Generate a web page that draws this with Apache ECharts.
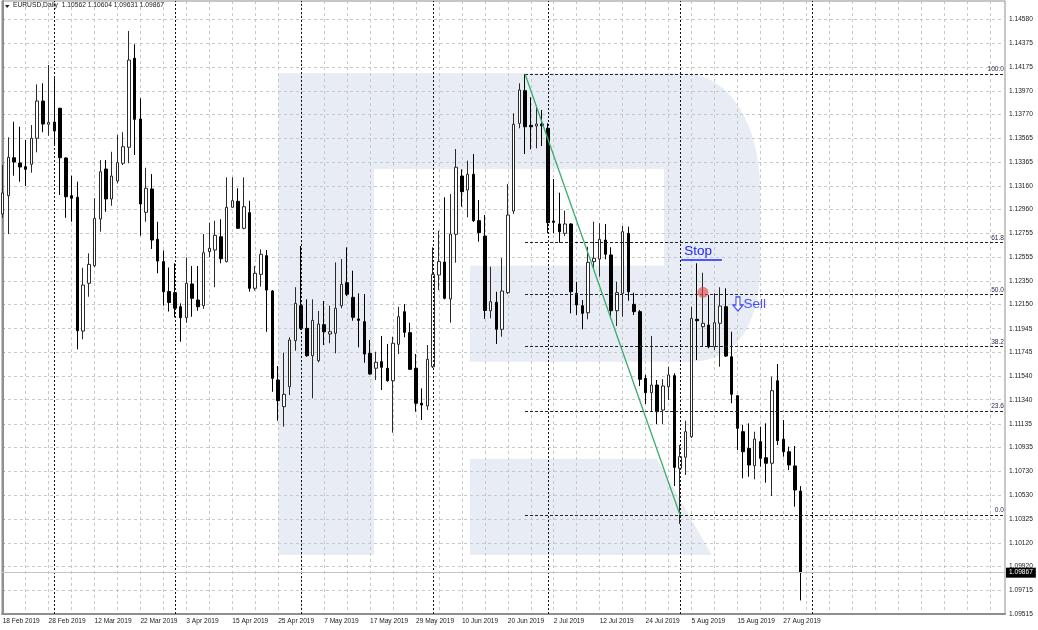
<!DOCTYPE html>
<html><head><meta charset="utf-8">
<script src="https://cdn.jsdelivr.net/npm/echarts@6/dist/echarts.min.js"></script>
<style>html,body{margin:0;padding:0;background:#fff;}#c{width:1038px;height:630px;}</style>
</head><body><div id="c"></div>
<script>
// ---------- data ----------
const dateLabels = ['18 Feb 2019','28 Feb 2019','12 Mar 2019','22 Mar 2019','3 Apr 2019','15 Apr 2019','25 Apr 2019','7 May 2019','17 May 2019','29 May 2019','10 Jun 2019','20 Jun 2019','2 Jul 2019','12 Jul 2019','24 Jul 2019','5 Aug 2019','15 Aug 2019','27 Aug 2019'];
const labelStep = 8;
const priceTicks = ['1.09515','1.09715','1.09920','1.10120','1.10325','1.10530','1.10730','1.10935','1.11135','1.11340','1.11540','1.11745','1.11945','1.12150','1.12350','1.12555','1.12755','1.12960','1.13160','1.13365','1.13565','1.13770','1.13970','1.14175','1.14375','1.14580'];
const opens = [1.12922,1.13078,1.13401,1.13356,1.13325,1.13345,1.13567,1.13884,1.13686,1.13705,1.13822,1.13399,1.13078,1.13064,1.11925,1.12332,1.12481,1.12879,1.13305,1.13050,1.13203,1.13354,1.13490,1.14248,1.13731,1.12936,1.13135,1.12706,1.12516,1.12262,1.12252,1.12132,1.12039,1.12326,1.12189,1.12141,1.12601,1.12615,1.12728,1.12516,1.12979,1.13030,1.12800,1.12933,1.12289,1.12408,1.12567,1.12266,1.11508,1.11281,1.11451,1.11843,1.12141,1.11948,1.11715,1.11672,1.11979,1.11900,1.11906,1.12141,1.12337,1.12212,1.12028,1.12005,1.11735,1.11608,1.11664,1.11608,1.11502,1.11812,1.12090,1.11911,1.11608,1.11310,1.11287,1.11621,1.12402,1.12513,1.12198,1.12749,1.13245,1.13126,1.13260,1.12865,1.12734,1.12098,1.12170,1.11940,1.12252,1.12947,1.13694,1.13972,1.13677,1.13671,1.13688,1.13652,1.12862,1.12837,1.12757,1.12837,1.12246,1.12141,1.12081,1.12516,1.12538,1.12700,1.12573,1.12098,1.12246,1.12757,1.12153,1.12090,1.11522,1.11400,1.11465,1.11252,1.11451,1.11545,1.10756,1.10850,1.11025,1.12025,1.11962,1.11976,1.11792,1.11991,1.12132,1.11706,1.11374,1.11068,1.10926,1.10778,1.10983,1.10846,1.10799,1.11502,1.11003,1.10897,1.10776,1.10562];
const highs = [1.13339,1.13575,1.13708,1.13665,1.13552,1.13680,1.14026,1.14035,1.14191,1.14078,1.13827,1.13405,1.13248,1.13197,1.12464,1.12587,1.13056,1.13382,1.13382,1.13452,1.13595,1.13618,1.14480,1.14367,1.13907,1.13316,1.13262,1.12856,1.12611,1.12466,1.12502,1.12161,1.12553,1.12479,1.12479,1.12751,1.12848,1.12865,1.12877,1.13234,1.13234,1.13141,1.13234,1.13035,1.12479,1.12621,1.12615,1.12274,1.11627,1.11741,1.11872,1.12298,1.12649,1.12195,1.12195,1.12096,1.12181,1.12141,1.12510,1.12538,1.12638,1.12439,1.12246,1.12240,1.11849,1.11749,1.11883,1.11815,1.11877,1.12132,1.12155,1.11996,1.11729,1.11437,1.11806,1.12638,1.12780,1.13064,1.13092,1.13475,1.13302,1.13376,1.13433,1.13041,1.12913,1.12473,1.12260,1.12545,1.13177,1.13779,1.14035,1.14114,1.13916,1.13836,1.13808,1.13694,1.13220,1.13103,1.12950,1.12843,1.12345,1.12189,1.12643,1.12856,1.12843,1.12837,1.12638,1.12345,1.12820,1.12814,1.12252,1.12104,1.11551,1.11883,1.11508,1.11514,1.11621,1.11565,1.10954,1.11161,1.12132,1.12502,1.12422,1.12232,1.12246,1.12298,1.12289,1.11919,1.11380,1.11125,1.11139,1.11068,1.11110,1.11139,1.11536,1.11644,1.11167,1.10940,1.10946,1.10604];
const lows = [1.12888,1.12751,1.13248,1.13197,1.13160,1.13274,1.13447,1.13618,1.13589,1.13515,1.13084,1.12890,1.12856,1.11769,1.11855,1.12217,1.12470,1.12771,1.12941,1.12992,1.13183,1.13339,1.13354,1.13424,1.12737,1.12856,1.12624,1.12417,1.12141,1.12091,1.12042,1.11834,1.11996,1.12047,1.12098,1.12113,1.12553,1.12298,1.12502,1.12510,1.12977,1.12794,1.12791,1.12260,1.12269,1.12303,1.11919,1.11408,1.11161,1.11110,1.11380,1.11758,1.11934,1.11706,1.11352,1.11659,1.11806,1.11821,1.11735,1.12119,1.12223,1.12013,1.11786,1.11655,1.11555,1.11508,1.11423,1.11493,1.11059,1.11729,1.11872,1.11593,1.11238,1.11167,1.11252,1.11610,1.12274,1.12195,1.11996,1.12507,1.12984,1.12894,1.12854,1.12686,1.12028,1.12033,1.11815,1.11877,1.12240,1.12922,1.13652,1.13433,1.13473,1.13481,1.13501,1.12757,1.12757,1.12677,1.12734,1.12076,1.12062,1.11940,1.12025,1.12459,1.12388,1.12536,1.12033,1.11968,1.12047,1.12183,1.12062,1.11457,1.11304,1.11238,1.11133,1.11133,1.11338,1.10605,1.10282,1.10699,1.11014,1.11678,1.11792,1.11778,1.11763,1.11621,1.11704,1.11310,1.10912,1.10671,1.10684,1.10662,1.10770,1.10633,1.10520,1.10954,1.10855,1.10741,1.10429,1.09631];
const closes = [1.13101,1.13405,1.13365,1.13322,1.13302,1.13567,1.13884,1.13688,1.13703,1.13629,1.13401,1.13069,1.13056,1.11928,1.12317,1.12493,1.12885,1.13282,1.13050,1.13245,1.13359,1.13495,1.14233,1.13728,1.13007,1.13141,1.12700,1.12521,1.12260,1.12168,1.12119,1.12039,1.12332,1.12204,1.12132,1.12592,1.12630,1.12740,1.12541,1.12979,1.13035,1.12800,1.12984,1.12289,1.12417,1.12579,1.12274,1.11522,1.11332,1.11386,1.11849,1.12161,1.11948,1.11715,1.12016,1.11985,1.11919,1.11919,1.12119,1.12323,1.12238,1.12042,1.12016,1.11729,1.11559,1.11659,1.11616,1.11502,1.11821,1.12047,1.11914,1.11599,1.11310,1.11295,1.11684,1.12408,1.12516,1.12204,1.12751,1.13320,1.13112,1.13260,1.12865,1.12763,1.12100,1.12175,1.11940,1.12266,1.12913,1.13686,1.13978,1.13665,1.13665,1.13688,1.13674,1.12848,1.12851,1.12771,1.12837,1.12260,1.12147,1.12076,1.12510,1.12545,1.12706,1.12579,1.12098,1.12252,1.12771,1.12260,1.12090,1.11514,1.11400,1.11465,1.11238,1.11457,1.11551,1.10764,1.10855,1.11068,1.12033,1.12013,1.11991,1.11792,1.11996,1.12138,1.11712,1.11386,1.11097,1.10897,1.10784,1.11005,1.10841,1.10799,1.11417,1.10991,1.10897,1.10784,1.10571,1.09867];
const fibHigh = 1.14114, fibLow = 1.10358;
const fibLevels = [0, 23.6, 38.2, 50, 61.8, 100];
const fibStartBar = 91, fibEndBar = 118;
const monthStartBars = [9, 30, 52, 75, 95, 118, 141];
const stopPrice = 1.12530, stopFromBar = 118.2, stopToBar = 125.3;
const entryPoint = [122, 1.12255];
const sellPoint = [128.1, 1.12155];
const lastPrice = 1.09867;
const titleText = 'EURUSD,Daily  1.10562 1.10604 1.09631 1.09867';

// ---------- layout ----------
const X_MIN = -0.12, X_MAX = 174.62, Y_MIN = 1.09515, Y_MAX = 1.14736;
const FONT = 'Liberation Sans';
const TXT = '#1a1a1a';
const gridBars = []; for (let b = 0; b <= 172; b += 4) gridBars.push(b);
const labelBars = dateLabels.map((_, i) => i * labelStep);
const tickVals = priceTicks.map(Number);
const candles = opens.map((o, i) => [i, o, closes[i], lows[i], highs[i]]);

function bez(p0, p1, p2, p3, n) {
  const pts = [];
  for (let k = 1; k <= n; k++) {
    const t = k / n, u = 1 - t;
    pts.push([u*u*u*p0[0] + 3*u*u*t*p1[0] + 3*u*t*t*p2[0] + t*t*t*p3[0],
              u*u*u*p0[1] + 3*u*u*t*p1[1] + 3*u*t*t*p2[1] + t*t*t*p3[1]]);
  }
  return pts;
}
const logoPts = [[278.3,73.3],[683,73.3]]
  .concat(bez([683,73.3],[730,73.3],[760,125],[760,190],16))
  .concat([[760,268]])
  .concat(bez([760,268],[760,315],[742,361.7],[690,361.7],16))
  .concat([[470,361.7],[470,265.7],[664,265.7],[664,169],[374,169],[374,555],[278.3,555]]);
const legPts = [[470,459],[656.7,459],[711.7,555],[470,555]];
const WM = '#e7ecf5';

const blue = '#1c24ff';
const fibData = fibLevels.map(r => {
  const v = fibLow + (fibHigh - fibLow) * r / 100;
  return [{coord: [fibStartBar, v], label: {show: true, formatter: r.toFixed(1), position: 'insideEndTop', distance: 1,
            fontSize: 6.6, fontFamily: FONT, color: '#2a2a50'}},
          {coord: [X_MAX, v]}];
});

const chart = echarts.init(document.getElementById('c'), null, {renderer: 'canvas'});
chart.setOption({
  animation: false,
  backgroundColor: '#fff',
  grid: {left: 2, right: 33, top: 1, bottom: 16, show: true, borderColor: '#8f8f8f', borderWidth: 1, containLabel: false, outerBoundsMode: 'none'},
  graphic: [
    {type: 'polygon', z: -100, silent: true, shape: {points: logoPts}, style: {fill: WM}},
    {type: 'polygon', z: -100, silent: true, shape: {points: legPts}, style: {fill: WM}},
    {type: 'polygon', z: 100, silent: true, shape: {points: [[5,5],[9.5,5],[7.2,8]]}, style: {fill: '#222'}},
    {type: 'text', z: 100, silent: true, left: 13, top: 2, style: {text: titleText, fontSize: 6.7, fontFamily: FONT, fill: TXT}}
  ],
  xAxis: {
    type: 'value', min: X_MIN, max: X_MAX,
    axisLine: {show: true, onZero: false, lineStyle: {color: '#8f8f8f', width: 2}},
    axisTick: {show: false, customValues: gridBars},
    axisLabel: {customValues: labelBars, formatter: v => dateLabels[Math.round(v / labelStep)] || '',
                align: 'left', fontSize: 6.6, fontFamily: FONT, color: TXT, margin: 4},
    splitLine: {show: true, lineStyle: {color: '#c8c8c8', type: [3, 3], width: 1}}
  },
  yAxis: {
    type: 'value', position: 'right', min: Y_MIN, max: Y_MAX,
    axisLine: {show: true, lineStyle: {color: '#8f8f8f', width: 2}},
    axisTick: {show: true, length: 2, customValues: tickVals, lineStyle: {color: '#8f8f8f'}},
    axisLabel: {customValues: tickVals, formatter: v => v.toFixed(5), fontSize: 6.6, fontFamily: FONT, color: TXT, margin: 4},
    splitLine: {show: true, lineStyle: {color: '#c8c8c8', type: [3, 3], width: 1}}
  },
  series: [
    { // period separators and price line
      type: 'line', data: [], z: 1, silent: true,
      markLine: {silent: true, precision: 5, symbol: ['none', 'none'], label: {show: false},
        lineStyle: {color: '#111', type: [2, 2], width: 1},
        data: monthStartBars.map(b => ({xAxis: b})).concat([
          {yAxis: lastPrice, lineStyle: {color: '#c4c4c4', type: 'solid', width: 1},
           label: {show: true, position: 'end', formatter: lastPrice.toFixed(5), color: '#fff', backgroundColor: '#000',
                   padding: [2, 3, 1, 3], fontSize: 6.6, fontFamily: FONT, distance: 1}}
        ])}
    },
    {
      type: 'candlestick', z: 3, data: candles, barWidth: 3, silent: true,
      itemStyle: {color: '#fff', color0: '#000', borderColor: '#2a2a2a', borderColor0: '#000', borderWidth: 1}
    },
    { // fibonacci retracement + trend line
      type: 'line', data: [], z: 4, silent: true,
      markLine: {silent: true, precision: 5, symbol: ['none', 'none'], label: {show: false},
        lineStyle: {color: '#222', type: [3, 2], width: 1},
        data: fibData.concat([[
          {coord: [fibStartBar, fibHigh], lineStyle: {color: '#3aae6e', type: 'solid', width: 1.3}},
          {coord: [fibEndBar, fibLow]}
        ]])}
    },
    { // stop level
      type: 'line', data: [], z: 5, silent: true,
      markLine: {silent: true, precision: 5, symbol: ['none', 'none'],
        lineStyle: {color: blue, type: 'solid', width: 1.5},
        data: [[
          {coord: [stopFromBar, stopPrice], label: {show: true, formatter: 'Stop', position: 'insideStartTop', distance: 2,
            fontSize: 13.5, fontFamily: FONT, color: blue, padding: [0, 0, 0, 1]}},
          {coord: [stopToBar, stopPrice]}
        ]]}
    },
    { // entry mark
      type: 'scatter', z: 6, silent: true, data: [entryPoint], symbolSize: 11,
      itemStyle: {color: 'rgba(228,70,70,0.78)'}
    },
    { // sell arrow
      type: 'scatter', z: 6, silent: true, data: [sellPoint],
      symbol: 'path://M3,0L7,0L7,8L10,8L5,14L0,8L3,8Z', symbolSize: [10, 14],
      itemStyle: {color: '#fff', borderColor: blue, borderWidth: 1.3},
      label: {show: true, formatter: 'Sell', position: 'right', distance: 0, fontSize: 13.5, fontFamily: FONT, color: blue}
    }
  ]
});
</script>
</body></html>
